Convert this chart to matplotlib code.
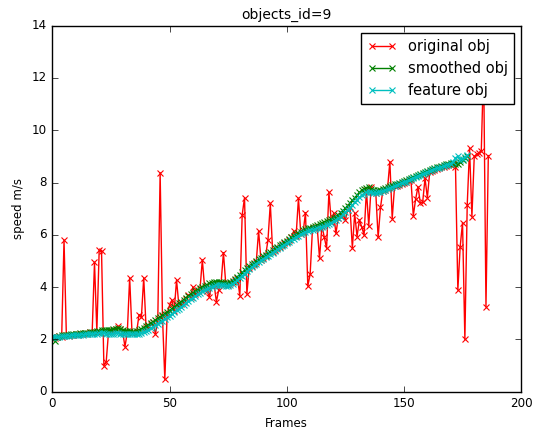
import matplotlib
matplotlib.use("Agg")
import matplotlib.pyplot as plt

# ---------------- DATA ----------------
original_obj = [
    2.10, 2.05, 2.08, 2.12, 2.10, 5.80, 2.15, 2.12, 2.18, 2.15,
    2.20, 2.18, 2.22, 2.20, 2.25, 2.22, 2.28, 2.25, 4.95, 2.30,
    5.42, 5.38, 1.00, 1.15, 2.30, 2.32, 2.35, 2.40, 2.50, 2.38,
    2.30, 1.72, 2.28, 4.36, 2.25, 2.28, 2.30, 2.95, 2.85, 4.36,
    2.45, 2.52, 2.58, 2.65, 2.20, 2.75, 8.38, 2.88, 0.47, 2.98,
    3.30, 3.50, 3.10, 4.27, 3.30, 3.35, 3.45, 3.55, 3.70, 3.62,
    4.00, 3.75, 3.85, 3.92, 5.04, 3.95, 3.85, 3.63, 4.10, 4.12,
    3.44, 3.90, 4.15, 5.32, 4.12, 4.10, 4.15, 4.20, 4.28, 4.35,
    3.67, 6.76, 7.42, 3.74, 4.75, 4.82, 4.90, 4.95, 6.15, 5.05,
    5.12, 5.20, 5.80, 7.20, 5.35, 5.42, 5.48, 5.55, 5.62, 5.68,
    5.74, 5.80, 5.90, 6.15, 5.95, 7.40, 6.05, 6.10, 6.85, 4.04,
    4.50, 6.25, 6.28, 6.30, 5.10, 6.35, 5.93, 5.49, 7.63, 6.50,
    6.82, 6.06, 6.65, 6.72, 6.80, 6.57, 6.95, 7.05, 5.49, 6.82,
    5.93, 6.57, 6.30, 6.00, 7.70, 6.34, 7.84, 7.65, 7.60, 5.90,
    7.05, 7.68, 7.72, 7.76, 8.80, 6.62, 7.85, 7.88, 7.92, 7.95,
    7.98, 8.02, 8.05, 8.10, 6.73, 7.37, 7.84, 7.22, 7.25, 8.16,
    7.42, 8.40, 8.45, 8.48, 8.52, 8.55, 8.58, 8.60, 8.63, 8.66,
    8.68, 8.70, 8.60, 3.89, 5.55, 6.47, 2.00, 7.14, 9.31, 6.70,
    9.00, 9.08, 9.14, 9.22, 12.50, 3.25, 9.03,
]

smoothed_obj = [
    2.05, 1.95, 2.10, 2.12, 2.15, 2.15, 2.18, 2.18, 2.20, 2.20,
    2.22, 2.22, 2.23, 2.24, 2.25, 2.26, 2.27, 2.28, 2.30, 2.32,
    2.34, 2.35, 2.36, 2.36, 2.35, 2.36, 2.38, 2.40, 2.42, 2.40,
    2.36, 2.34, 2.32, 2.32, 2.30, 2.30, 2.32, 2.35, 2.40, 2.45,
    2.50, 2.56, 2.62, 2.68, 2.74, 2.80, 2.86, 2.92, 2.98, 3.04,
    3.10, 3.17, 3.24, 3.31, 3.38, 3.45, 3.52, 3.59, 3.66, 3.72,
    3.78, 3.84, 3.90, 3.95, 4.00, 4.05, 4.10, 4.14, 4.17, 4.19,
    4.20, 4.20, 4.19, 4.17, 4.15, 4.15, 4.18, 4.24, 4.32, 4.40,
    4.48, 4.56, 4.64, 4.72, 4.80, 4.87, 4.94, 5.00, 5.06, 5.12,
    5.18, 5.24, 5.30, 5.36, 5.42, 5.48, 5.54, 5.60, 5.66, 5.72,
    5.78, 5.84, 5.90, 5.96, 6.02, 6.07, 6.12, 6.17, 6.21, 6.25,
    6.28, 6.31, 6.34, 6.37, 6.40, 6.44, 6.48, 6.52, 6.56, 6.60,
    6.65, 6.70, 6.77, 6.85, 6.93, 7.02, 7.12, 7.22, 7.32, 7.42,
    7.52, 7.62, 7.70, 7.76, 7.80, 7.82, 7.75, 7.70, 7.68, 7.70,
    7.72, 7.75, 7.78, 7.82, 7.86, 7.90, 7.93, 7.96, 7.99, 8.02,
    8.05, 8.08, 8.12, 8.16, 8.20, 8.24, 8.28, 8.32, 8.36, 8.40,
    8.44, 8.48, 8.52, 8.55, 8.58, 8.61, 8.64, 8.67, 8.70, 8.72,
    8.74, 8.76, 8.72, 8.70, 8.80, 8.88, 8.95, 9.02,
]

feature_obj = [
    2.10, 2.08, 2.08, 2.10, 2.12, 2.12, 2.14, 2.14, 2.15, 2.16,
    2.16, 2.17, 2.18, 2.18, 2.19, 2.20, 2.20, 2.21, 2.22, 2.22,
    2.23, 2.24, 2.24, 2.22, 2.20, 2.20, 2.22, 2.24, 2.24, 2.22,
    2.20, 2.20, 2.20, 2.20, 2.20, 2.20, 2.21, 2.22, 2.25, 2.28,
    2.32, 2.37, 2.42, 2.48, 2.54, 2.60, 2.66, 2.72, 2.78, 2.84,
    2.90, 2.97, 3.04, 3.11, 3.18, 3.25, 3.32, 3.39, 3.46, 3.53,
    3.60, 3.66, 3.72, 3.78, 3.84, 3.89, 3.94, 3.98, 4.02, 4.05,
    4.07, 4.08, 4.08, 4.07, 4.06, 4.06, 4.08, 4.13, 4.20, 4.28,
    4.36, 4.44, 4.52, 4.60, 4.68, 4.76, 4.83, 4.90, 4.96, 5.02,
    5.08, 5.14, 5.20, 5.26, 5.32, 5.38, 5.44, 5.50, 5.56, 5.62,
    5.68, 5.74, 5.80, 5.86, 5.92, 5.97, 6.02, 6.07, 6.11, 6.15,
    6.18, 6.20, 6.22, 6.25, 6.28, 6.31, 6.35, 6.39, 6.43, 6.47,
    6.52, 6.57, 6.63, 6.70, 6.78, 6.86, 6.95, 7.04, 7.14, 7.24,
    7.34, 7.44, 7.52, 7.58, 7.62, 7.64, 7.62, 7.60, 7.60, 7.62,
    7.64, 7.67, 7.70, 7.74, 7.78, 7.82, 7.86, 7.90, 7.94, 7.98,
    8.01, 8.04, 8.08, 8.12, 8.16, 8.20, 8.24, 8.28, 8.32, 8.36,
    8.40, 8.44, 8.48, 8.51, 8.54, 8.57, 8.60, 8.63, 8.66, 8.69,
    8.72, 8.80, 8.95, 9.00, 8.88, 8.92, 8.98, 9.05,
]

x_ticks = [0, 50, 100, 150, 200]
y_ticks = [0, 2, 4, 6, 8, 10, 12, 14]

# ---------------- PLOT ----------------
plt.style.use("classic")
plt.rcParams["figure.facecolor"] = "white"
plt.rcParams["savefig.facecolor"] = "white"

fig = plt.figure(figsize=(5.42, 4.32), dpi=100)
ax = fig.add_axes([0.0965, 0.0933, 0.8650, 0.8472])

ax.plot(range(len(original_obj)), original_obj, "rx-", ms=5, mew=0.8, label="original obj")
ax.plot(range(len(smoothed_obj)), smoothed_obj, "gx-", ms=5, mew=0.8, label="smoothed obj")
ax.plot(range(len(feature_obj)), feature_obj, "cx-", ms=5, mew=0.8, label="feature obj")

ax.set_xlim(0, 200)
ax.set_ylim(0, 14)
ax.set_xticks(x_ticks)
ax.set_yticks(y_ticks)
ax.tick_params(labelsize=8.6)

ax.set_title("objects_id=9", fontsize=10)
ax.set_xlabel("Frames", fontsize=8.5)
ax.set_ylabel("speed m/s", fontsize=8.5)
ax.legend(loc="upper right", fontsize=10.5)

fig.savefig("out.png", dpi=100)
